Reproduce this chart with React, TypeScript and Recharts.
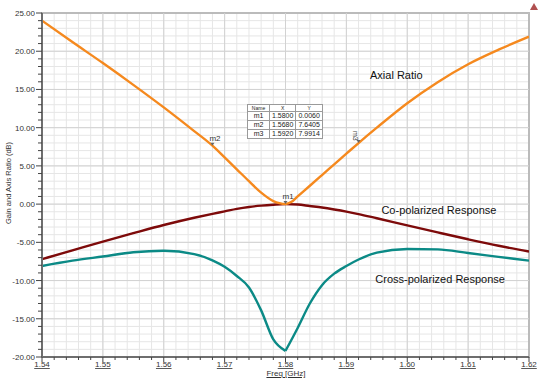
import React from 'react';
import { LineChart, Line, XAxis, YAxis, CartesianGrid, ReferenceLine, ReferenceArea, ReferenceDot } from 'recharts';

// Axial Ratio (dB)
const axialFreq = [1.54, 1.545, 1.55, 1.555, 1.56, 1.565, 1.568, 1.57, 1.572, 1.574, 1.576, 1.578, 1.579, 1.58, 1.581, 1.582, 1.584, 1.586, 1.588, 1.59, 1.592, 1.595, 1.6, 1.605, 1.61, 1.615, 1.62];
const axialValues = [24.0, 21.2, 18.45, 15.6, 12.65, 9.55, 7.64, 6.1, 4.55, 3.0, 1.5, 0.4, 0.12, 0.006, 0.3, 1.0, 2.4, 3.8, 5.2, 6.6, 7.99, 10.0, 13.2, 15.95, 18.3, 20.2, 21.9];

// Co-polarized response (dB)
const coFreq = [1.54, 1.545, 1.55, 1.555, 1.56, 1.565, 1.568, 1.57, 1.572, 1.574, 1.576, 1.578, 1.58, 1.582, 1.584, 1.586, 1.588, 1.59, 1.592, 1.595, 1.6, 1.605, 1.61, 1.615, 1.62];
const coPolValues = [-7.2, -6.05, -4.9, -3.8, -2.73, -1.78, -1.27, -0.95, -0.62, -0.37, -0.2, -0.08, 0, -0.05, -0.25, -0.45, -0.7, -0.98, -1.3, -1.85, -2.78, -3.7, -4.6, -5.45, -6.2];

// Cross-polarized response (dB), split at the null
const crossFreqLow = [1.54, 1.545, 1.55, 1.555, 1.56, 1.565, 1.568, 1.57, 1.572, 1.574, 1.576, 1.578, 1.58];
const crossValuesLow = [-8.1, -7.4, -6.85, -6.3, -6.1, -6.55, -7.35, -8.2, -9.4, -10.9, -13.9, -17.7, -19.2];
const crossFreqHigh = [1.58, 1.582, 1.584, 1.586, 1.588, 1.59, 1.592, 1.595, 1.6, 1.605, 1.61, 1.615, 1.62];
const crossValuesHigh = [-19.2, -16.2, -13.0, -10.6, -9.1, -8.1, -7.25, -6.35, -5.87, -5.92, -6.4, -6.9, -7.4];

// Markers
const markerNames = ['m1', 'm2', 'm3'];
const markerX = [1.58, 1.568, 1.592];
const markerY = [0.006, 7.6405, 7.9914];
const markerXText = ['1.5800', '1.5680', '1.5920'];
const markerYText = ['0.0060', '7.6405', '7.9914'];

// Ticks
const xMajorTicks = [1.54, 1.55, 1.56, 1.57, 1.58, 1.59, 1.6, 1.61, 1.62];
const xTickLabels = ['1.54', '1.55', '1.56', '1.57', '1.58', '1.59', '1.60', '1.61', '1.62'];
const yMajorTicks = [-20, -15, -10, -5, 0, 5, 10, 15, 20, 25];
const yTickLabels = ['-20.00', '-15.00', '-10.00', '-5.00', '0.00', '5.00', '10.00', '15.00', '20.00', '25.00'];

const xMinorTicks: number[] = [];
for (let i = 0; i <= 40; i++) xMinorTicks.push(Math.round((1.54 + i * 0.002) * 1000) / 1000);
const yMinorTicks: number[] = [];
for (let v = -20; v <= 25; v++) yMinorTicks.push(v);

const axialData = axialFreq.map((f, i) => ({ f, v: axialValues[i] }));
const coData = coFreq.map((f, i) => ({ f, v: coPolValues[i] }));
const crossLowData = crossFreqLow.map((f, i) => ({ f, v: crossValuesLow[i] }));
const crossHighData = crossFreqHigh.map((f, i) => ({ f, v: crossValuesHigh[i] }));

const FONT = 'Arial, "Liberation Sans", sans-serif';

const XTick = (props: any) => {
  const { x, y, payload } = props;
  const idx = xMajorTicks.findIndex((t) => Math.abs(t - payload.value) < 1e-7);
  const major = idx >= 0;
  return (
    <g>
      <line x1={x} x2={x} y1={y} y2={y + (major ? 5 : 3)} stroke="#444" strokeWidth={1} />
      {major && (
        <text x={x} y={y + 10} textAnchor="middle" fontSize={8} fill="#333" fontFamily={FONT} textDecoration="underline">
          {xTickLabels[idx]}
        </text>
      )}
    </g>
  );
};

const YTick = (props: any) => {
  const { x, y, payload } = props;
  const idx = yMajorTicks.findIndex((t) => Math.abs(t - payload.value) < 1e-7);
  const major = idx >= 0;
  return (
    <g>
      <line x1={x} x2={x - (major ? 6 : 4)} y1={y} y2={y} stroke="#444" strokeWidth={1} />
      {major && (
        <text x={x - 7} y={y + 3} textAnchor="end" fontSize={8} fill="#333" fontFamily={FONT}>
          {yTickLabels[idx]}
        </text>
      )}
    </g>
  );
};

const makeMarker = (name: string, vertical: boolean) => (p: any) => {
  const { cx, cy } = p;
  return (
    <g>
      <path d={`M${cx - 2},${cy - 3} L${cx + 2},${cy - 3} L${cx},${cy} Z`} fill="#666" />
      {vertical ? (
        <text x={cx + 1} y={cy - 5} fontSize={7} fill="#444" fontFamily={FONT} transform={`rotate(90 ${cx + 1} ${cy - 12})`}>
          {name}
        </text>
      ) : (
        <text x={cx - 3} y={cy - 5} fontSize={8} fill="#333" fontFamily={FONT}>
          {name}
        </text>
      )}
    </g>
  );
};

const makeNote = (text: string) => (p: any) => (
  <text x={p.cx} y={p.cy + 4} textAnchor="middle" fontSize={11} fill="#111" fontFamily={FONT}>
    {text}
  </text>
);

const cell: React.CSSProperties = { border: '1px solid #9a9a9a', padding: '0 2px', textAlign: 'center', fontSize: 7, lineHeight: '8px', height: 8 };
const hcell: React.CSSProperties = { ...cell, fontSize: 5, lineHeight: '6px', height: 6 };

export default function App() {
  return (
    <div style={{ position: 'absolute', left: 0, top: 0, width: 540, height: 378, background: '#fff', fontFamily: FONT }}>
      <LineChart width={540} height={378} margin={{ top: 13, right: 11, bottom: 5, left: 8 }}>
        <CartesianGrid stroke="#e6e6e6" strokeWidth={1} />
        {xMajorTicks.map((t) => (
          <ReferenceLine key={'vx' + t} x={t} stroke="#d2d2d2" strokeWidth={1} />
        ))}
        {yMajorTicks.map((t) => (
          <ReferenceLine key={'hy' + t} y={t} stroke="#d2d2d2" strokeWidth={1} />
        ))}
        <ReferenceArea x1={1.54} x2={1.62} y1={-20} y2={25} fill="none" stroke="#8a8a8a" strokeWidth={1.5} />
        <XAxis
          type="number"
          dataKey="f"
          domain={[1.54, 1.62]}
          ticks={xMinorTicks}
          interval={0}
          allowDataOverflow
          tickSize={0}
          tickMargin={0}
          tickLine={false}
          tick={<XTick />}
          axisLine={{ stroke: '#6e6e6e', strokeWidth: 2 }}
          height={16}
        />
        <YAxis
          type="number"
          dataKey="v"
          domain={[-20, 25]}
          ticks={yMinorTicks}
          interval={0}
          allowDataOverflow
          tickSize={0}
          tickMargin={0}
          tickLine={false}
          tick={<YTick />}
          axisLine={{ stroke: '#6e6e6e', strokeWidth: 2 }}
          width={34}
        />
        <Line data={crossLowData} dataKey="v" type="monotone" stroke="#0b8a86" strokeWidth={2.4} dot={false} isAnimationActive={false} />
        <Line data={crossHighData} dataKey="v" type="monotone" stroke="#0b8a86" strokeWidth={2.4} dot={false} isAnimationActive={false} />
        <Line data={coData} dataKey="v" type="monotone" stroke="#7d0a0a" strokeWidth={2.4} dot={false} isAnimationActive={false} />
        <Line data={axialData} dataKey="v" type="monotone" stroke="#f5891e" strokeWidth={2.4} dot={false} isAnimationActive={false} />
        {markerNames.map((n, i) => (
          <ReferenceDot key={n} x={markerX[i]} y={markerY[i]} r={0} shape={makeMarker(n, i === 2)} />
        ))}
        <ReferenceDot x={1.5982} y={16.9} r={0} shape={makeNote('Axial Ratio')} />
        <ReferenceDot x={1.6052} y={-0.8} r={0} shape={makeNote('Co-polarized Response')} />
        <ReferenceDot x={1.6054} y={-9.8} r={0} shape={makeNote('Cross-polarized Response')} />
      </LineChart>

      <div
        style={{
          position: 'absolute',
          left: 8,
          top: 183,
          transform: 'translate(-50%, -50%) rotate(-90deg)',
          fontSize: 7.5,
          color: '#333',
          whiteSpace: 'nowrap',
        }}
      >
        Gain and Axis Ratio (dB)
      </div>
      <div
        style={{
          position: 'absolute',
          left: 286,
          top: 374,
          transform: 'translate(-50%, -50%)',
          fontSize: 8,
          lineHeight: '8px',
          color: '#333',
          textDecoration: 'underline',
          whiteSpace: 'nowrap',
        }}
      >
        Freq [GHz]
      </div>

      <table
        style={{
          position: 'absolute',
          left: 247,
          top: 104,
          borderCollapse: 'collapse',
          background: '#fff',
          border: '1px solid #777',
          color: '#222',
        }}
      >
        <tbody>
          <tr>
            <td style={{ ...hcell, width: 17 }}>Name</td>
            <td style={{ ...hcell, width: 20 }}>X</td>
            <td style={{ ...hcell, width: 20 }}>Y</td>
          </tr>
          {markerNames.map((n, i) => (
            <tr key={n}>
              <td style={cell}>{n}</td>
              <td style={cell}>{markerXText[i]}</td>
              <td style={cell}>{markerYText[i]}</td>
            </tr>
          ))}
        </tbody>
      </table>

      <svg style={{ position: 'absolute', left: 529, top: 2 }} width={10} height={10}>
        <path d="M5,1 L9,8 L1,8 Z" fill="#b05050" />
      </svg>
    </div>
  );
}
